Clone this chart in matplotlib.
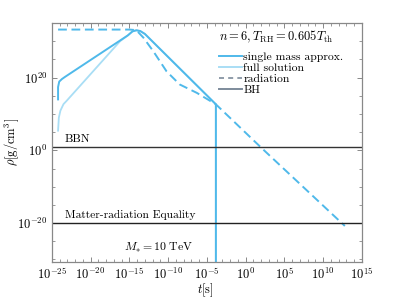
import numpy as np
import matplotlib
matplotlib.use('Agg')
import matplotlib.pyplot as plt
from matplotlib.lines import Line2D
from matplotlib.ticker import FixedLocator, NullFormatter

plt.rcParams['font.family'] = 'serif'
plt.rcParams['font.serif'] = ['cmr10', 'DejaVu Serif']
plt.rcParams['mathtext.fontset'] = 'cm'
plt.rcParams['axes.formatter.use_mathtext'] = True

# values, as log10 of t[s] and rho[g/cm^3]
log_t_single = [-24.2, -24.2, -24.05, -23.7, -23.3, -15.2, -14.6, -14.1, -13.6, -13.0, -3.84, -3.84]
log_rho_single = [14.0, 17.4, 18.9, 19.6, 20.2, 31.6, 32.7, 33.0, 32.8, 32.0, 12.65, -40.0]

log_t_full = [-24.2, -24.1, -23.9, -23.5, -23.1, -16.2, -15.2, -14.6, -14.1, -13.6, -13.0, -3.84, -3.84]
log_rho_full = [5.4, 9.0, 10.9, 12.7, 13.6, 30.0, 31.6, 32.7, 33.0, 32.8, 32.0, 12.65, -40.0]

log_t_rad = [-24.2, -15.0, -14.4, -14.0, -13.2, -11.9, -10.2, -8.5, -6.3, -3.84, 2.1, 12.8]
log_rho_rad = [33.2, 33.2, 33.1, 32.8, 31.0, 27.2, 21.7, 18.1, 15.8, 12.65, 0.55, -20.8]

rho_bbn = 1e1
rho_eq = 1e-20

c_single = '#4fb9ea'
c_full = '#a9def5'
c_legend_gray = '#7d8b9b'

fig = plt.figure(figsize=(3.99, 2.99), dpi=100)
ax = fig.add_axes([0.130, 0.125, 0.777, 0.798])

ax.plot(10.0**np.array(log_t_full), 10.0**np.array(log_rho_full), color=c_full, lw=1.3)
ax.plot(10.0**np.array(log_t_single), 10.0**np.array(log_rho_single), color=c_single, lw=1.4)
ax.plot(10.0**np.array(log_t_rad), 10.0**np.array(log_rho_rad), color=c_single, lw=1.4,
        ls=(0, (4.5, 2.4)))

ax.axhline(rho_bbn, color='#333333', lw=1.0)
ax.axhline(rho_eq, color='#222222', lw=1.0)

ax.text(10**-23.3, 10**1.8, 'BBN', fontsize=8.5, va='bottom')
ax.text(10**-23.3, 10**-19.2, 'Matter-radiation Equality', fontsize=8.3, va='bottom')
ax.text(10**-6.8, 10**-26.8, r'$M_{*}=10\ {\rm TeV}$', fontsize=8.5, ha='right', va='center')

ax.set_xscale('log')
ax.set_yscale('log')
ax.set_xlim(1e-25, 1e15)
ax.set_ylim(10.0**-30.6, 1e35)

ax.xaxis.set_major_locator(FixedLocator([10.0**k for k in range(-25, 16, 5)]))
ax.xaxis.set_minor_locator(FixedLocator([10.0**k for k in range(-25, 16)]))
ax.yaxis.set_major_locator(FixedLocator([10.0**k for k in (-20, 0, 20)]))
ax.yaxis.set_minor_locator(FixedLocator([10.0**k for k in range(-30, 36, 5)]))
ax.xaxis.set_minor_formatter(NullFormatter())
ax.yaxis.set_minor_formatter(NullFormatter())

ax.tick_params(which='both', direction='in', top=True, right=True, color='#888888',
               labelsize=9)
ax.tick_params(which='major', length=3.5, width=0.7)
ax.tick_params(which='minor', length=2, width=0.6)
for s in ax.spines.values():
    s.set_color('#888888')
    s.set_linewidth(0.9)

ax.set_xlabel(r'$t[{\rm s}]$', fontsize=8.8)
ax.set_ylabel(r'$\rho[{\rm g/cm}^3]$', fontsize=9)
ax.xaxis.set_label_coords(0.494, -0.082)
ax.yaxis.set_label_coords(-0.10, 0.5)

handles = [Line2D([], [], color=c_single, lw=1.4),
           Line2D([], [], color=c_full, lw=1.4),
           Line2D([], [], color=c_legend_gray, lw=1.2, ls=(0, (3, 2.5))),
           Line2D([], [], color=c_legend_gray, lw=1.4)]
labels = ['single mass approx.', 'full solution', 'radiation', 'BH']
leg = ax.legend(handles, labels, loc='upper right', frameon=False, fontsize=8.4,
                title=r'$n=6,T_{\rm RH}=0.605T_{\rm th}$', title_fontsize=9,
                handlelength=1.9, handletextpad=0.15, labelspacing=0.06,
                alignment='left', borderaxespad=0.0, borderpad=0.2,
                bbox_to_anchor=(0.948, 0.985))
leg._legend_box.sep = 5

fig.savefig('out.png', dpi=100)
